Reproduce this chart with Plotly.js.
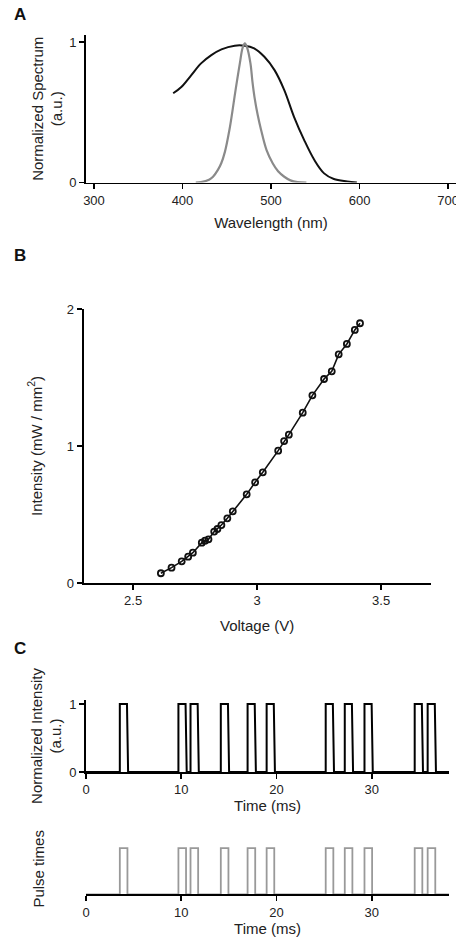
<!DOCTYPE html>
<html>
<head>
<meta charset="utf-8">
<script src="https://cdn.plot.ly/plotly-3.0.1.min.js"></script>
<style>html,body{margin:0;padding:0;background:#fff;}#plot{width:456px;height:937px;}</style>
</head>
<body>
<div id="plot"></div>
<script>
// Panel A: spectra
const ledWavelength = [389.5, 399, 410, 421, 432.6, 444, 459, 470, 481, 492.5, 504, 515, 526, 537.5, 549, 560, 571, 586, 597];
const ledSpectrum   = [0.635, 0.682, 0.765, 0.848, 0.907, 0.948, 0.974, 0.974, 0.955, 0.895, 0.80, 0.658, 0.468, 0.302, 0.16, 0.065, 0.025, 0.008, 0.0];
const narrowWavelength = [415, 421, 430, 434.5, 440, 443.8, 448, 453, 456, 458.8, 462, 464.8, 468, 470.5, 473, 476.8, 479, 481.3, 485, 488.8, 495, 501.9, 508, 515, 522, 530, 540];
const narrowSpectrum   = [0, 0.003, 0.02, 0.041, 0.09, 0.137, 0.22, 0.374, 0.49, 0.61, 0.74, 0.848, 0.96, 0.99, 0.96, 0.848, 0.72, 0.61, 0.48, 0.374, 0.23, 0.137, 0.08, 0.041, 0.015, 0.003, 0];
const aXTicks = [300, 400, 500, 600, 700];
const aYTicks = [0, 1];

// Panel B: intensity vs voltage
const voltage   = [2.612, 2.655, 2.696, 2.722, 2.741, 2.777, 2.790, 2.804, 2.827, 2.840, 2.856, 2.880, 2.902, 2.958, 2.992, 3.023, 3.085, 3.109, 3.128, 3.184, 3.223, 3.270, 3.301, 3.329, 3.362, 3.394, 3.415];
const intensity = [0.071, 0.112, 0.158, 0.192, 0.221, 0.294, 0.309, 0.319, 0.375, 0.394, 0.423, 0.472, 0.523, 0.647, 0.735, 0.808, 0.966, 1.036, 1.083, 1.243, 1.370, 1.489, 1.545, 1.669, 1.745, 1.847, 1.896];
const bXTicks = [2.5, 3, 3.5];
const bYTicks = [0, 1, 2];

// Panel C: pulse train (ms)
const pulseOnsets = [3.55, 9.7, 10.97, 14.15, 16.96, 18.96, 25.16, 27.16, 29.23, 34.5, 35.86];
const pulseWidth = 0.75;
const pulseFall = 0.12;
const traceEnd = 38.1;
const cXTicks = [0, 10, 20, 30];
const cYTicks = [0, 1];

// build pulse traces from the onset list
const measX = [0], measY = [0];
const idealX = [0], idealY = [0];
pulseOnsets.forEach(t => {
  measX.push(t, t, t + pulseWidth, t + pulseWidth + pulseFall);
  measY.push(0, 1, 1, 0);
  idealX.push(t, t, t + pulseWidth + 0.05, t + pulseWidth + 0.05);
  idealY.push(0, 1, 1, 0);
});
measX.push(traceEnd); measY.push(0);
idealX.push(traceEnd); idealY.push(0);

const FONT = 'Liberation Sans, Arial, Helvetica, sans-serif';
const TXT = '#222';

const W = 456, H = 937;
const px = v => v / W;
const py = v => 1 - v / H;

function axisBase(extra) {
  return Object.assign({
    showline: true, linecolor: '#000', linewidth: 1.8,
    ticks: 'outside', ticklen: 5, tickwidth: 1.6, tickcolor: '#000',
    showgrid: false, zeroline: false,
    tickfont: {family: FONT, size: 13, color: TXT},
    ticklabeloverflow: 'allow',
    fixedrange: true
  }, extra);
}

const data = [
  {x: ledWavelength, y: ledSpectrum, xaxis: 'x', yaxis: 'y', mode: 'lines',
   line: {color: '#111', width: 2, shape: 'spline'}, hoverinfo: 'skip'},
  {x: narrowWavelength, y: narrowSpectrum, xaxis: 'x', yaxis: 'y', mode: 'lines',
   line: {color: '#8a8a8a', width: 2.2, shape: 'spline'}, hoverinfo: 'skip'},
  {x: voltage, y: intensity, xaxis: 'x2', yaxis: 'y2', mode: 'lines+markers',
   line: {color: '#111', width: 1.6},
   marker: {symbol: 'circle-open', size: 6, color: '#111', line: {width: 1.8, color: '#111'}}, hoverinfo: 'skip'},
  {x: measX, y: measY, xaxis: 'x3', yaxis: 'y3', mode: 'lines',
   line: {color: '#000', width: 2}, hoverinfo: 'skip'},
  {x: idealX, y: idealY, xaxis: 'x4', yaxis: 'y4', mode: 'lines',
   line: {color: '#999', width: 1.8}, hoverinfo: 'skip'}
];

const layout = {
  width: W, height: H,
  margin: {l: 0, r: 0, t: 0, b: 0},
  paper_bgcolor: '#fff', plot_bgcolor: '#fff',
  showlegend: false,
  font: {family: FONT, color: TXT},
  xaxis: axisBase({domain: [px(86), 1], range: [291, 709], tickvals: aXTicks, anchor: 'y',
    title: {text: 'Wavelength (nm)', font: {family: FONT, size: 15, color: TXT}, standoff: 10}}),
  yaxis: axisBase({domain: [py(182.5), py(35)], range: [0, 1.05], tickvals: aYTicks, anchor: 'x',
    title: {text: 'Normalized Spectrum<br>(a.u.)', font: {family: FONT, size: 15, color: TXT}, standoff: 3}}),
  xaxis2: axisBase({domain: [px(83.5), px(430.7)], range: [2.3, 3.7], tickvals: bXTicks, anchor: 'y2',
    title: {text: 'Voltage (V)', font: {family: FONT, size: 15, color: TXT}, standoff: 13}}),
  yaxis2: axisBase({domain: [py(583), py(309)], range: [0, 2], tickvals: bYTicks, anchor: 'x2',
    title: {text: 'Intensity (mW / mm<sup>2</sup>)', font: {family: FONT, size: 15, color: TXT}, standoff: 21}}),
  xaxis3: axisBase({domain: [px(86), px(449)], range: [0, 38.1], tickvals: cXTicks, anchor: 'y3',
    title: {text: 'Time (ms)', font: {family: FONT, size: 15, color: TXT}, standoff: 0}}),
  yaxis3: axisBase({domain: [py(772), py(700)], range: [0, 1.06], tickvals: cYTicks, anchor: 'x3',
    title: {text: 'Normalized Intensity<br>(a.u.)', font: {family: FONT, size: 15, color: TXT}, standoff: 4}}),
  xaxis4: axisBase({domain: [px(86), px(449)], range: [0, 38.1], tickvals: cXTicks, anchor: 'y4',
    title: {text: 'Time (ms)', font: {family: FONT, size: 15, color: TXT}, standoff: 0}}),
  yaxis4: axisBase({domain: [py(894.3), py(843.4)], range: [0, 1.1], anchor: 'x4',
    showline: false, ticks: '', showticklabels: false,
    title: {text: 'Pulse times', font: {family: FONT, size: 15, color: TXT}, standoff: 36}}),
  annotations: [
    {text: '<b>A</b>', x: px(12), y: py(15), xref: 'paper', yref: 'paper', xanchor: 'left', yanchor: 'middle', showarrow: false, font: {family: FONT, size: 17, color: '#111'}},
    {text: '<b>B</b>', x: px(12), y: py(255), xref: 'paper', yref: 'paper', xanchor: 'left', yanchor: 'middle', showarrow: false, font: {family: FONT, size: 17, color: '#111'}},
    {text: '<b>C</b>', x: px(12), y: py(648), xref: 'paper', yref: 'paper', xanchor: 'left', yanchor: 'middle', showarrow: false, font: {family: FONT, size: 17, color: '#111'}}
  ]
};

Plotly.newPlot('plot', data, layout, {staticPlot: true, displayModeBar: false});
</script>
</body>
</html>
